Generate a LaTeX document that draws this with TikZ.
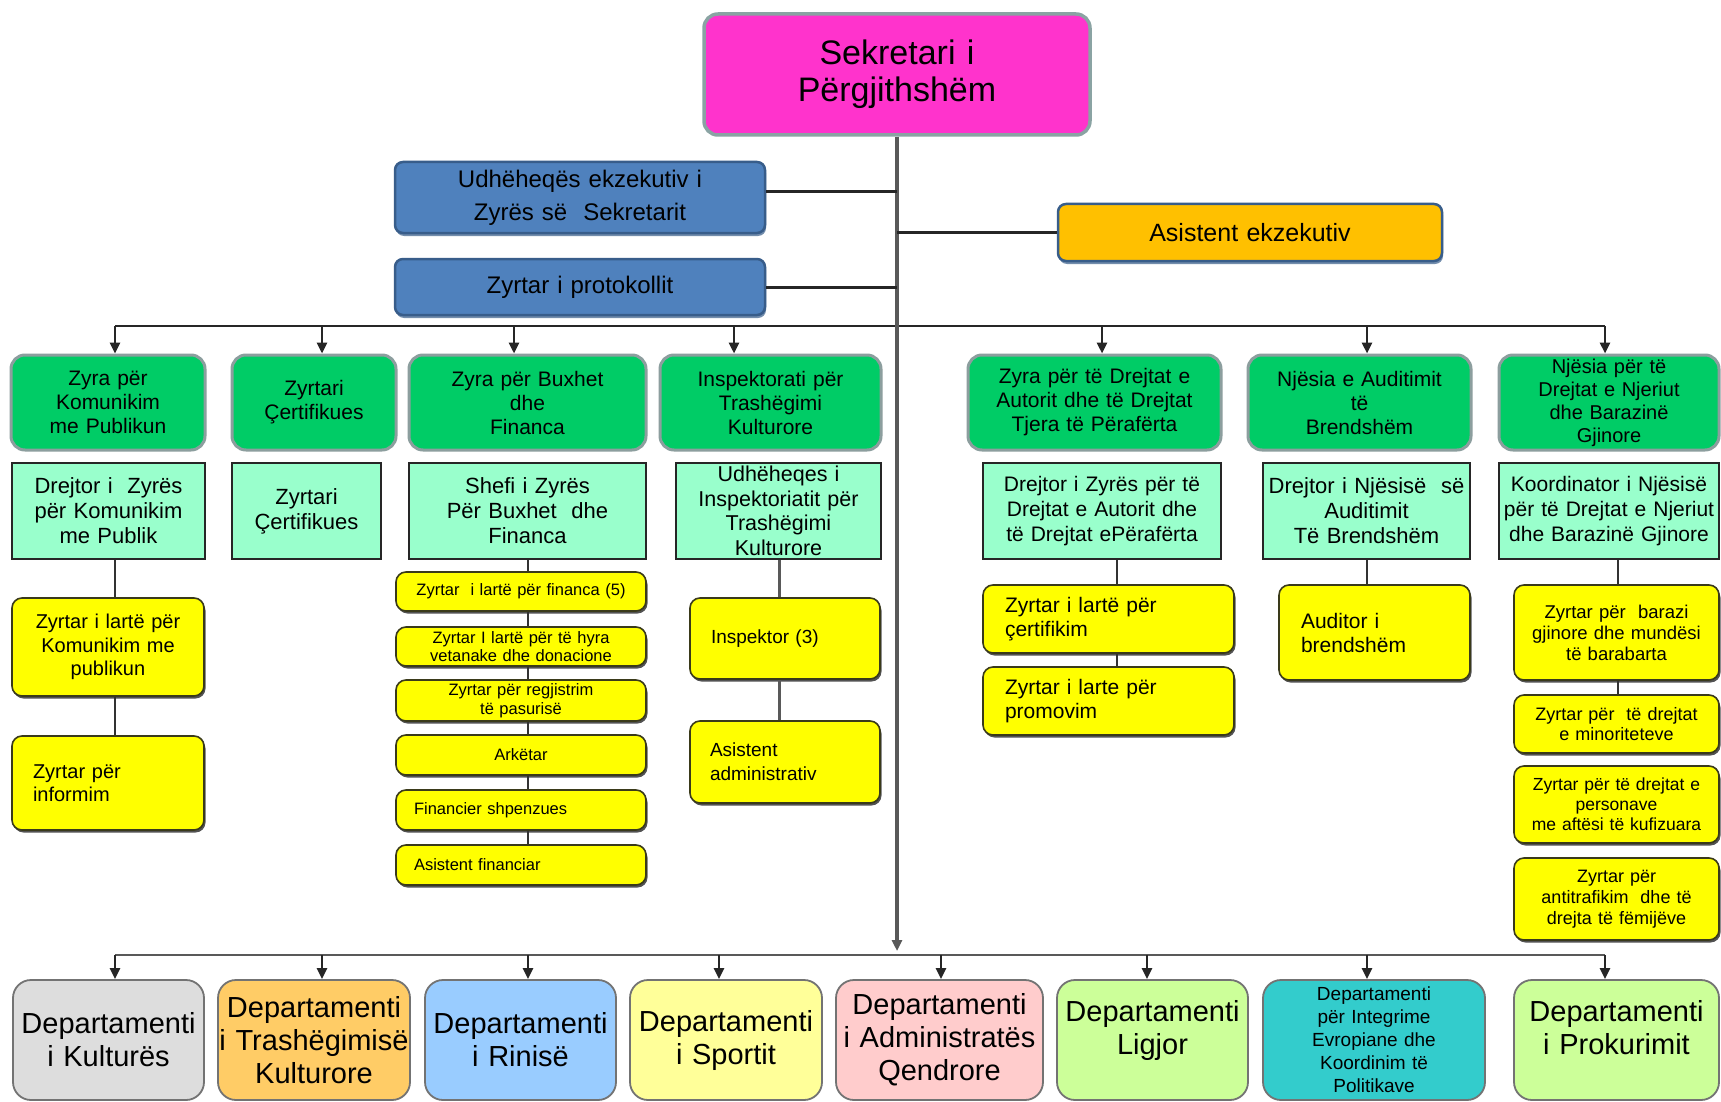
\documentclass[tikz,border=0pt]{standalone}
\usepackage{fontspec}
\setmainfont{Liberation Sans}
\usetikzlibrary{arrows.meta,shadows}

\definecolor{sekfill}{HTML}{FF33CC}
\definecolor{sekline}{HTML}{8AA3A3}
\definecolor{bluefill}{HTML}{4F81BD}
\definecolor{blueline}{HTML}{385D8A}
\definecolor{goldfill}{HTML}{FFC000}
\definecolor{greenfill}{HTML}{00CC66}
\definecolor{greenline}{HTML}{8C9E9E}
\definecolor{mintfill}{HTML}{99FFCC}
\definecolor{yelfill}{HTML}{FFFF00}
\definecolor{yelline}{HTML}{3A3A1A}
\definecolor{trunkgray}{HTML}{595959}
\definecolor{dGray}{HTML}{DDDDDD}
\definecolor{dOrange}{HTML}{FFCC66}
\definecolor{dBlue}{HTML}{99CCFF}
\definecolor{dYellow}{HTML}{FFFF99}
\definecolor{dPink}{HTML}{FFCCCC}
\definecolor{dLime}{HTML}{CCFF99}
\definecolor{dTeal}{HTML}{33CCCC}

\newcommand{\fsz}[2]{\fontsize{#1pt}{#2pt}\selectfont}
% invisible depth that lifts a two-line label inside its box
\newcommand{\liftlabel}{\rule[-26pt]{0pt}{1pt}}

\tikzset{
  sz/.style 2 args={text width=#1pt, minimum height=#2pt, inner xsep=0pt, inner ysep=0pt, align=center},
  lsz/.style n args={3}{text width=#1pt, minimum height=#2pt, inner xsep=#3pt, inner ysep=0pt, align=left},
  sekbox/.style={rounded corners=14pt, fill=sekfill, draw=sekline, line width=3.5pt, font=\fsz{34}{37}},
  bluebox/.style={rounded corners=8pt, fill=bluefill, draw=blueline, line width=2.5pt, font=\fsz{24}{33},
    drop shadow={shadow xshift=1pt, shadow yshift=-3pt, fill=blueline, opacity=0.7}},
  goldbox/.style={rounded corners=8pt, fill=goldfill, draw=blueline, line width=2.5pt, font=\fsz{25}{30},
    drop shadow={shadow xshift=1pt, shadow yshift=-3pt, fill=blueline, opacity=0.7}},
  greenbox/.style={rounded corners=14pt, fill=greenfill, draw=greenline, line width=3pt, font=\fsz{21}{24}},
  mintbox/.style={fill=mintfill, draw=black!85, line width=2pt, font=\fsz{22}{25}},
  yelbox/.style={rounded corners=10pt, fill=yelfill, draw=yelline, line width=1.6pt,
    drop shadow={shadow xshift=1.5pt, shadow yshift=-2.5pt, fill=black!75, opacity=0.9}},
  deptbox/.style={rounded corners=18pt, draw=black!55, line width=1.8pt, font=\fsz{29}{33}},
  trunkln/.style={draw=trunkgray, line width=4pt},
  ln/.style={draw=black!80, line width=2pt},
  sideln/.style={draw=black!85, line width=3pt},
  busln/.style={draw=black!85, line width=2.6pt},
  tip/.style={-{Triangle[length=11pt,width=10pt]}},
}

\begin{document}
\begin{tikzpicture}[x=1pt,y=-1pt]
\useasboundingbox (0,0) rectangle (1721,1102);
\fill[white] (0,0) rectangle (1721,1102);

% ---- head of the office and its staff ----
\node[sekbox, sz={386}{121}] (sek) at (897,74.5) {Sekretari i\\Përgjithshëm};
\node[bluebox, sz={370}{71}] (udh) at (580,197.5) {Udhëheqës ekzekutiv i\\Zyrës së\ \ Sekretarit};
\node[bluebox, sz={370}{56}] (prot) at (580,287) {Zyrtar i protokollit};
\node[goldbox, sz={384}{57}] (asis) at (1250,232.5) {Asistent ekzekutiv};

% ---- offices (green) ----
\node[greenbox, sz={194}{95}] (g1) at (108,402.5) {Zyra për\\Komunikim\\me Publikun};
\node[greenbox, sz={164}{95}] (g2) at (314,402.5) {Zyrtari\\Çertifikues};
\node[greenbox, sz={237}{95}] (g3) at (527.5,402.5) {Zyra për Buxhet\\dhe\\Financa};
\node[greenbox, sz={221}{95}] (g4) at (770.5,402.5) {Inspektorati për\\Trashëgimi\\Kulturore};
\node[greenbox, sz={253}{95}] (g5) at (1094.5,402.5) {Zyra për të Drejtat e\\Autorit dhe të Drejtat\\Tjera të Përafërta};
\node[greenbox, sz={223}{95}] (g6) at (1359.5,402.5) {Njësia e Auditimit\\të\\Brendshëm};
\node[greenbox, sz={220}{95}, font=\fsz{20}{23}] (g7) at (1609,402.5) {Njësia për të\\Drejtat e Njeriut\\dhe Barazinë\\Gjinore};

% ---- heads of the offices (mint) ----
\node[mintbox, sz={193}{96}] (c1) at (108.5,511) {Drejtor i\ \ Zyrës\\për Komunikim\\me Publik};
\node[mintbox, sz={149}{96}] (c2) at (306.5,511) {Zyrtari\\Çertifikues};
\node[mintbox, sz={237}{96}] (c3) at (527.5,511) {Shefi i Zyrës\\Për Buxhet\ \ dhe\\Financa};
\node[mintbox, sz={205}{96}, font=\fsz{21.5}{24.5}] (c4) at (778.5,511) {Udhëheqes i\\Inspektoriatit për\\Trashëgimi\\Kulturore};
\node[mintbox, sz={238}{96}, font=\fsz{21}{25}] (c5) at (1102,511) {Drejtor i Zyrës për të\\Drejtat e Autorit dhe\\të Drejtat ePërafërta};
\node[mintbox, sz={207}{96}] (c6) at (1366.5,511) {Drejtor i Njësisë\ \ së\\Auditimit\\Të Brendshëm};
\node[mintbox, sz={220}{96}, font=\fsz{21}{25}] (c7) at (1609,511) {Koordinator i Njësisë\\për të Drejtat e Njeriut\\dhe Barazinë Gjinore};

% ---- staff (yellow) ----
\node[yelbox, sz={192}{98}, font=\fsz{20}{23.5}] (ya1) at (108,647) {Zyrtar i lartë për\\Komunikim me\\publikun};
\node[yelbox, lsz={150}{94}{21}, font=\fsz{20}{23.5}] (ya2) at (108,783) {Zyrtar për\\informim};

\node[yelbox, sz={250}{39}, font=\fsz{16.5}{18.5}] (yb1) at (521,591.5) {Zyrtar\ \ i lartë për financa (5)};
\node[yelbox, sz={250}{39}, font=\fsz{16.5}{18.5}] (yb2) at (521,646.5) {Zyrtar I lartë për të hyra\\vetanake dhe donacione};
\node[yelbox, sz={250}{41}, font=\fsz{16.5}{18.5}] (yb3) at (521,700.5) {Zyrtar për regjistrim\\të pasurisë};
\node[yelbox, sz={250}{40}, font=\fsz{16.5}{18.5}] (yb4) at (521,755) {Arkëtar};
\node[yelbox, lsz={214}{40}{18}, font=\fsz{16.5}{18.5}] (yb5) at (521,810) {Financier shpenzues};
\node[yelbox, lsz={214}{40}{18}, font=\fsz{16.5}{18.5}] (yb6) at (521,865) {Asistent financiar};

\node[yelbox, lsz={148}{81}{21}, font=\fsz{19}{24}] (yd1) at (785,638.5) {Inspektor (3)};
\node[yelbox, lsz={150}{82}{20}, font=\fsz{19}{24}] (yd2) at (785,762) {Asistent\\administrativ};

\node[yelbox, lsz={207}{68}{22}, font=\fsz{21}{24}] (ye1) at (1108.5,619) {Zyrtar i lartë për\\çertifikim};
\node[yelbox, lsz={207}{68}{22}, font=\fsz{21}{24}] (ye2) at (1108.5,701) {Zyrtar i larte për\\promovim};

\node[yelbox, lsz={147}{95}{22}, font=\fsz{21}{24}] (yf1) at (1374.5,632.5) {Auditor i\\brendshëm};

\node[yelbox, sz={205}{95}, font=\fsz{18.5}{21}] (yg1) at (1616.5,632.5) {Zyrtar për\ \ barazi\\gjinore dhe mundësi\\të barabarta};
\node[yelbox, sz={205}{58}, font=\fsz{18}{20}] (yg2) at (1616.5,724) {Zyrtar për\ \ të drejtat\\e minoriteteve};
\node[yelbox, sz={205}{77}, font=\fsz{17.5}{20}] (yg3) at (1616.5,804.5) {Zyrtar për të drejtat e\\personave\\me aftësi të kufizuara};
\node[yelbox, sz={205}{82}, font=\fsz{18}{21}] (yg4) at (1616.5,899) {Zyrtar për\\antitrafikim\ \ dhe të\\drejta të fëmijëve};

% ---- departments ----
\node[deptbox, sz={191}{120}, fill=dGray] (b1) at (108.5,1040) {Departamenti\\i Kulturës};
\node[deptbox, sz={192}{120}, fill=dOrange] (b2) at (314,1040) {Departamenti\\i Trashëgimisë\\Kulturore};
\node[deptbox, sz={191}{120}, fill=dBlue] (b3) at (520.5,1040) {Departamenti\\i Rinisë};
\node[deptbox, sz={192}{120}, fill=dYellow] (b4) at (726,1040) {Departamenti\\i Sportit};
\node[deptbox, sz={207}{120}, fill=dPink] (b5) at (939.5,1040) {Departamenti\\i Administratës\\Qendrore};
\node[deptbox, sz={191}{120}, fill=dLime] (b6) at (1152.5,1040) {Departamenti\\Ligjor\liftlabel};
\node[deptbox, sz={222}{120}, fill=dTeal, font=\fsz{19}{23}] (b7) at (1374,1040) {Departamenti\\për Integrime\\Evropiane dhe\\Koordinim të\\Politikave};
\node[deptbox, sz={205}{120}, fill=dLime] (b8) at (1616.5,1040) {Departamenti\\i Prokurimit\liftlabel};

% ---- bus lines ----
\coordinate (t1) at (115,326);  \coordinate (t2) at (322,326);
\coordinate (t3) at (514,326);  \coordinate (t4) at (734,326);
\coordinate (t5) at (1102,326); \coordinate (t6) at (1367,326);
\coordinate (t7) at (1605,326);
\draw[busln] (t1) -- (t7);
\foreach \i in {1,...,7} \draw[busln,tip] (t\i) -- (t\i |- g\i.north);

\coordinate (d1) at (115,955);  \coordinate (d2) at (322,955);
\coordinate (d3) at (528,955);  \coordinate (d4) at (719,955);
\coordinate (d5) at (941,955);  \coordinate (d6) at (1147,955);
\coordinate (d7) at (1367,955); \coordinate (d8) at (1605,955);
\draw[busln, draw=trunkgray] (d1) -- (d8);
\foreach \i in {1,...,8} \draw[busln,tip] (d\i) -- (d\i |- b\i.north);

% ---- main trunk and side posts ----
\coordinate (tb) at (897,951);
\coordinate (hu) at (897,192);
\draw[trunkln,tip] (sek.south) -- (tb);
\draw[sideln] (hu -| udh.east) -- (hu);
\draw[sideln] (prot.east) -- (prot.east -| sek.south);
\draw[sideln] (asis.west) -- (asis.west -| sek.south);

% ---- chains inside each office ----
\coordinate (k1) at (115,0);  \coordinate (k3) at (528,0);
\coordinate (k4) at (779,0);  \coordinate (k5) at (1117,0);
\coordinate (k6) at (1367,0); \coordinate (k7) at (1618,0);
\draw[ln] (c1.south -| k1) -- (ya1.north -| k1);
\draw[ln] (ya1.south -| k1) -- (ya2.north -| k1);
\draw[ln] (c3.south -| k3) -- (yb1.north -| k3);
\draw[ln] (yb1.south -| k3) -- (yb2.north -| k3);
\draw[ln] (yb2.south -| k3) -- (yb3.north -| k3);
\draw[ln] (yb3.south -| k3) -- (yb4.north -| k3);
\draw[ln] (yb4.south -| k3) -- (yb5.north -| k3);
\draw[ln] (yb5.south -| k3) -- (yb6.north -| k3);
\draw[ln, draw=trunkgray, line width=3pt] (c4.south -| k4) -- (yd1.north -| k4);
\draw[ln, draw=trunkgray, line width=3pt] (yd1.south -| k4) -- (yd2.north -| k4);
\draw[ln] (c5.south -| k5) -- (ye1.north -| k5);
\draw[ln] (ye1.south -| k5) -- (ye2.north -| k5);
\draw[ln] (c6.south -| k6) -- (yf1.north -| k6);
\draw[ln] (c7.south -| k7) -- (yg1.north -| k7);
\draw[ln] (yg1.south -| k7) -- (yg2.north -| k7);
\end{tikzpicture}
\end{document}
